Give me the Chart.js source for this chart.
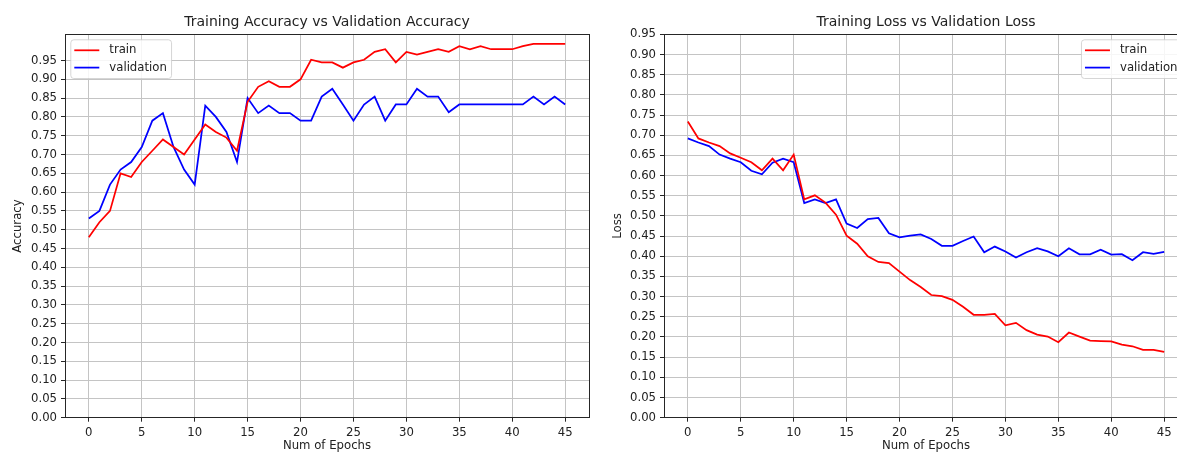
<!DOCTYPE html>
<html>
<head>
<meta charset="utf-8">
<script src="https://cdn.jsdelivr.net/npm/chart.js@4.4.0/dist/chart.umd.min.js"></script>
<style>
  html, body { margin: 0; padding: 0; background: #fff; overflow: hidden; width: 1177px; height: 453px; }
  #acc-chart { position: absolute; left: 0; top: 0; }
  #loss-chart { position: absolute; left: 600px; top: 0; }
</style>
</head>
<body>
<canvas id="acc-chart" width="600" height="453"></canvas>
<canvas id="loss-chart" width="600" height="453"></canvas>
<script>
// data
const epochs = [0, 1, 2, 3, 4, 5, 6, 7, 8, 9, 10, 11, 12, 13, 14, 15, 16, 17, 18, 19, 20, 21, 22,
    23, 24, 25, 26, 27, 28, 29, 30, 31, 32, 33, 34, 35, 36, 37, 38, 39, 40, 41, 42, 43, 44, 45];

const trainAcc = [0.48, 0.52, 0.55, 0.65, 0.64, 0.68, 0.71, 0.74, 0.72, 0.70, 0.74, 0.78, 0.76, 0.745,
    0.71, 0.84, 0.88, 0.895, 0.88, 0.88, 0.90, 0.952, 0.945, 0.945, 0.931, 0.945, 0.952, 0.973, 0.98,
    0.945, 0.973, 0.966, 0.973, 0.98, 0.973, 0.988, 0.98, 0.988, 0.98, 0.98, 0.98, 0.988, 0.994, 0.994,
    0.994, 0.994];
const valAcc = [0.53, 0.55, 0.62, 0.66, 0.68, 0.72, 0.79, 0.81, 0.72, 0.66, 0.62, 0.83, 0.80, 0.76,
    0.68, 0.85, 0.81, 0.83, 0.81, 0.81, 0.79, 0.79, 0.854, 0.875, 0.833, 0.79, 0.833, 0.854, 0.79,
    0.833, 0.833, 0.875, 0.854, 0.854, 0.8125, 0.833, 0.833, 0.833, 0.833, 0.833, 0.833, 0.833, 0.854,
    0.833, 0.854, 0.833];

const trainLoss = [0.734, 0.692, 0.682, 0.673, 0.655, 0.644, 0.633, 0.613, 0.642, 0.613, 0.652, 0.541,
    0.551, 0.533, 0.503, 0.451, 0.431, 0.400, 0.386, 0.383, 0.362, 0.341, 0.324, 0.304, 0.301, 0.292,
    0.275, 0.255, 0.255, 0.257, 0.229, 0.235, 0.217, 0.206, 0.201, 0.187, 0.211, 0.201, 0.191, 0.190,
    0.189, 0.181, 0.177, 0.168, 0.168, 0.163];
const valLoss = [0.692, 0.682, 0.673, 0.652, 0.642, 0.633, 0.612, 0.603, 0.632, 0.642, 0.633, 0.532,
    0.541, 0.532, 0.541, 0.481, 0.470, 0.492, 0.495, 0.457, 0.447, 0.451, 0.454, 0.443, 0.426, 0.426,
    0.438, 0.449, 0.410, 0.424, 0.412, 0.397, 0.410, 0.420, 0.412, 0.400, 0.420, 0.405, 0.405, 0.416,
    0.404, 0.405, 0.390, 0.410, 0.406, 0.411];

const xTicks = [0, 5, 10, 15, 20, 25, 30, 35, 40, 45];
const yTicks = [0.00, 0.05, 0.10, 0.15, 0.20, 0.25, 0.30, 0.35, 0.40, 0.45,
    0.50, 0.55, 0.60, 0.65, 0.70, 0.75, 0.80, 0.85, 0.90, 0.95];

const FONT = '"DejaVu Sans", sans-serif';
const TXT = '#222';

// frame, title and legend drawn the matplotlib way
const mplDecor = {
    id: 'mplDecor',
    afterDraw(chart, args, opts) {
        const ctx = chart.ctx;
        const ca = chart.chartArea;
        ctx.save();

        ctx.strokeStyle = '#262626';
        ctx.lineWidth = 1;
        ctx.strokeRect(Math.round(ca.left) + 0.5, Math.round(ca.top) + 0.5,
            Math.round(ca.right - ca.left), Math.round(ca.bottom - ca.top));

        ctx.fillStyle = TXT;
        ctx.font = '14px ' + FONT;
        ctx.textAlign = 'center';
        ctx.textBaseline = 'alphabetic';
        ctx.fillText(opts.title, (ca.left + ca.right) / 2, ca.top - 8);

        // legend
        ctx.font = '11.7px ' + FONT;
        const sets = chart.data.datasets;
        const textW = Math.max(...sets.map(d => ctx.measureText(d.label).width));
        const boxW = 3.5 + 25 + 10 + textW + 4.7;
        const boxH = 38.7;
        const bx = opts.legendRight ? ca.right - 5.8 - boxW : ca.left + 5.8;
        const by = ca.top + 5.5;
        ctx.beginPath();
        ctx.roundRect(bx, by, boxW, boxH, 3);
        ctx.fillStyle = 'rgba(255,255,255,0.85)';
        ctx.fill();
        ctx.strokeStyle = 'rgba(204,204,204,0.8)';
        ctx.stroke();
        sets.forEach((d, i) => {
            const ly = by + 10.5 + i * 17.3;
            ctx.beginPath();
            ctx.moveTo(bx + 3.5, ly);
            ctx.lineTo(bx + 28.5, ly);
            ctx.strokeStyle = d.borderColor;
            ctx.lineWidth = 1.75;
            ctx.stroke();
            ctx.fillStyle = TXT;
            ctx.textAlign = 'left';
            ctx.textBaseline = 'middle';
            ctx.fillText(d.label, bx + 38.5, ly);
        });
        ctx.restore();
    }
};

function makeChart(id, title, yLabel, yMax, train, val, yWidth, padRight, legendRight) {
    const ctx = document.getElementById(id).getContext('2d');
    return new Chart(ctx, {
        type: 'line',
        data: {
            datasets: [{
                label: 'train',
                data: epochs.map((e, i) => ({x: e, y: train[i]})),
                borderColor: '#ff0000',
                borderWidth: 1.75,
                pointRadius: 0,
                tension: 0,
                fill: false
            }, {
                label: 'validation',
                data: epochs.map((e, i) => ({x: e, y: val[i]})),
                borderColor: '#0000ff',
                borderWidth: 1.75,
                pointRadius: 0,
                tension: 0,
                fill: false
            }]
        },
        options: {
            responsive: false,
            animation: false,
            events: [],
            layout: { padding: { top: 34.3, right: padRight, bottom: 0, left: 0 } },
            scales: {
                x: {
                    type: 'linear',
                    min: -2.25,
                    max: 47.25,
                    afterBuildTicks: s => { s.ticks = xTicks.map(v => ({value: v})); },
                    afterFit: s => { s.height = 35.3; },
                    ticks: { font: { family: FONT, size: 11.7 }, color: TXT, padding: 4,
                        maxRotation: 0, autoSkip: false, callback: v => String(v) },
                    grid: { color: '#c4c4c4', lineWidth: 1, tickLength: 4, tickColor: '#262626', tickWidth: 1 },
                    border: { display: false },
                    title: { display: true, text: 'Num of Epochs', color: TXT,
                        font: { family: FONT, size: 11.7 }, padding: { top: 0, bottom: 0 } }
                },
                y: {
                    min: 0,
                    max: yMax,
                    afterBuildTicks: s => { s.ticks = yTicks.map(v => ({value: v})); },
                    afterFit: s => { s.width = yWidth; },
                    ticks: { font: { family: FONT, size: 11.7 }, color: TXT, padding: 4,
                        autoSkip: false, callback: v => v.toFixed(2) },
                    grid: { color: '#c4c4c4', lineWidth: 1, tickLength: 4, tickColor: '#262626', tickWidth: 1 },
                    border: { display: false },
                    title: { display: true, text: yLabel, color: TXT,
                        font: { family: FONT, size: 11.7 }, padding: { top: 11.3, bottom: 0 } }
                }
            },
            plugins: {
                legend: { display: false },
                tooltip: { enabled: false },
                mplDecor: { title: title, legendRight: legendRight }
            }
        },
        plugins: [mplDecor]
    });
}

document.addEventListener("DOMContentLoaded", () => {
    makeChart('acc-chart', 'Training Accuracy vs Validation Accuracy', 'Accuracy', 1.0197,
        trainAcc, valAcc, 65, 11, false);
    makeChart('loss-chart', 'Training Loss vs Validation Loss', 'Loss', 0.95,
        trainLoss, valLoss, 64, 12, true);
});
</script>
</body>
</html>
